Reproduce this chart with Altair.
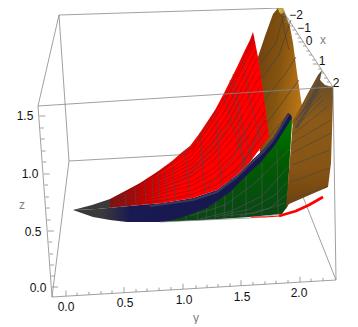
import altair as alt
import pandas as pd

# ---- screen-plane readings of the projected 3D plot (pixels of the picture) ----
box_back = [[(59,15),(281,8)],[(59,15),(69,161)],[(69,161),(284,149)],[(284,149),(336,280)],[(52,297),(69,161)]]
box_front = [[(38,106),(59,15)],[(38,106),(333,87)],[(333,87),(336,280)],[(52,297),(336,280)],[(52,297),(38,106)],[(281,8),(333,87)]]

orange_back = [(258,57),(265,36),(273,14),(278,8),(283,8),(285,13),(290,27),(293,43),(297,73),(301,100),(302,106),(292,125),(285,210),(260,215),(260,140)]
orange_front = [(293,120),(300,108),(308,93),(318,75),(322,70),(320,80),(325,85),(333,87),(333,100),(331,163),(328,187),(289,204),(286,209)]
red_surface = [(73,210),(92,205),(110,199),(127,190),(140,183),(157,172),(172,161),(181,153),(190,146),(199,134),(207,122),(215,110),(223,95),(230,81),(237,67),(245,50),(250,40),(253,32),(258,57),(265,105),(269,137),(259,150),(250,162),(237,175),(217,190),(193,198),(163,203),(140,205),(97,209)]
navy_band = [(73,210),(97,209),(140,205),(163,203),(193,198),(217,190),(237,175),(250,162),(263,150),(273,138),(288,113),(291,115),(292,118),(275,145),(260,163),(250,172),(230,192),(207,208),(180,218),(163,222),(127,222),(110,220),(93,217)]
green_surface = [(160,222),(180,212),(207,202),(230,186),(250,166),(275,140),(292,118),(287,207),(282,214),(249,217),(205,220)]
yellow_tip = [(278,8),(283,8),(285,12),(281,14),(279,12)]

red_u = [
 [(110,207),(140,203),(165,200),(193,194),(216,185),(236,169),(249,154),(268,129)],
 [(110,207),(140,201),(166,196),(193,190),(215,179),(235,162),(248,147),(266,120)],
 [(110,206),(140,199),(167,192),(193,185),(214,173),(233,155),(247,138),(265,111)],
 [(110,205),(140,198),(167,189),(193,181),(214,168),(232,149),(246,131),(264,102)],
 [(110,204),(140,196),(168,185),(192,176),(213,161),(231,141),(245,122),(262,93)],
 [(110,204),(140,194),(168,182),(192,172),(212,156),(230,135),(243,115),(261,85)],
 [(110,203),(140,192),(169,179),(192,168),(211,151),(229,129),(242,107),(260,76)],
 [(110,202),(140,190),(170,175),(192,164),(210,145),(228,122),(241,99),(258,68)],
 [(110,202),(140,189),(170,172),(192,160),(210,140),(227,116),(240,92),(257,59)],
 [(110,201),(140,187),(171,169),(192,155),(209,134),(226,109),(239,84),(256,51)],
 [(110,200),(140,185),(171,165),(192,151),(208,128),(224,103),(238,76),(255,42)],
 [(110,200),(140,184),(172,163),(192,148),(207,125),(224,98),(238,71),(254,36)],
]
red_v = [
 [(125,194),(126,207)],[(135,187),(136,205)],[(145,181),(146,205)],[(152,176),(153,204)],[(165,166),(167,203)],
 [(158,171),(160,203)],[(172,161),(175,202)],[(185,151),(190,199)],[(200,133),(205,195)],[(215,110),(222,187)],
 [(224,95),(234,130),(246,166)],[(242,58),(250,100),(262,146)],[(233,74),(242,125),(252,160)],[(230,80),(238,120),(244,170)],
 [(179,156),(196,142),(212,118)],[(190,175),(215,150),(232,118)],[(205,190),(232,160),(250,122)],[(228,183),(250,150),(265,115)],
 [(170,190),(195,168),(222,130)],[(240,170),(256,140),(267,125)],
]
orange_back_mesh = [
 [(261,62),(276,43),(284,13)],[(262,78),(279,55),(291,20)],[(264,100),(286,73),(296,57)],
 [(267,123),(289,93),(299,80)],[(269,137),(289,113)],[(282,15),(284,30),(289,50)],
]
orange_front_mesh = [
 [(288,200),(327,187)],[(290,182),(330,168)],[(292,165),(330,150)],[(292,153),(331,133)],[(292,143),(331,120)],
 [(292,135),(327,107)],[(293,130),(323,100)],[(293,126),(321,96)],[(294,122),(320,92)],[(296,120),(320,88)],[(298,118),(320,84)],
 [(300,116),(320,80)],
]
orange_band = [(296,128),(306,112),(318,88)]
green_mesh = [
 [(186,216),(186,221)],[(198,212),(197,221)],[(207,207),(206,220)],[(216,200),(215,219)],[(225,196),(224,219)],[(233,190),(232,218)],[(246,176),(246,217)],[(262,163),(262,216)],[(277,148),(278,214)],
 [(200,219),(232,211),(262,196),(290,165)],[(215,217),(250,209),(275,195),(291,178)],[(240,216),(270,208),(288,193)],[(190,216),(225,205),(255,183),(291,148)],
 [(225,216),(255,213),(285,203)],
]
band_edge = [(150,206),(193,200),(217,192),(237,177),(250,164),(263,152),(273,140),(289,114)]
bottom_edge = [(160,222),(205,220),(250,218),(282,214)]
red_thin = [(251,217),(265,217),(279,216)]
red_thick = [(279,216),(296,211),(309,205),(323,197)]

z_major_y = [287,231,174,116]
z_minor_y = [276,265,254,242,220,208,197,185,162,151,139,128]
z_labels = ["0.0","0.5","1.0","1.5"]
z_label_x = [38,33,30,25]
z_label_y = [288,232,174,116]

y_major_x = [66,124,183,241,300]
y_minor_x = [77,89,101,112,136,147,159,171,196,207,218,230,253,265,276,288,311,323]
y_labels = ["0.0","0.5","1.0","1.5","2.0"]
y_label_x = [66,125,184,242,299]
y_label_y = [307,303,300,297,293]

x_major_y = [8,22,42,64,87]
x_minor_y = [12,15,19,26,30,34,38,46,51,55,60,69,73,78,82]
x_labels = ["\u22122","\u22121","0","1","2"]
x_label_x = [296,304,309,322,336]
x_label_y = [15,28,41,61,83]

titles = ["x","y","z"]
title_x = [323,196,22]
title_y = [40,318,205]

X = alt.X("x:Q", scale=alt.Scale(domain=[8,350], nice=False, zero=False), axis=None)
Y = alt.Y("y:Q", scale=alt.Scale(domain=[324,8], nice=False, zero=False), axis=None)

def lines(paths, **mark):
    rows = [dict(g=i, o=j, x=p[0], y=p[1]) for i, path in enumerate(paths) for j, p in enumerate(path)]
    return alt.Chart(pd.DataFrame(rows)).mark_line(clip=False, **mark).encode(X, Y, detail="g:N", order="o:Q")

def shape(points, fill):
    rows = [dict(o=j, x=p[0], y=p[1]) for j, p in enumerate(points + points[:1])]
    return alt.Chart(pd.DataFrame(rows)).mark_line(fill=fill, stroke="transparent", strokeWidth=0).encode(X, Y, order="o:Q")

def grad(stops, x1=0, y1=0, x2=1, y2=0):
    return alt.Gradient(gradient="linear", x1=x1, y1=y1, x2=x2, y2=y2,
                        stops=[alt.GradientStop(offset=o, color=c) for o, c in stops])

def ticks(rows):
    df = pd.DataFrame(rows, columns=["x","y","x2","y2"])
    return alt.Chart(df).mark_rule(color="#888888", strokeWidth=0.8).encode(X, Y, x2="x2:Q", y2="y2:Q")

def texts(labels, xs, ys, color):
    df = pd.DataFrame(dict(t=labels, x=xs, y=ys))
    return alt.Chart(df).mark_text(font="Liberation Sans", fontSize=12, color=color, align="center", baseline="middle").encode(X, Y, text="t:N")

def y_edge(x):
    return 297 - (x - 52) * 17 / 284

def x_edge(y):
    return 281 + (y - 8) * 52 / 79

def z_edge(y):
    return 52 - (287 - y) * 14 / 191

tick_rows = []
for y_ in z_major_y:
    tick_rows.append((z_edge(y_), y_, z_edge(y_) + 6, y_))
for y_ in z_minor_y:
    tick_rows.append((z_edge(y_), y_, z_edge(y_) + 3.5, y_))
for x_ in y_major_x:
    tick_rows.append((x_, y_edge(x_), x_, y_edge(x_) - 5.5))
for x_ in y_minor_x:
    tick_rows.append((x_, y_edge(x_), x_, y_edge(x_) - 3))
for y_ in x_major_y:
    tick_rows.append((x_edge(y_), y_, x_edge(y_) - 5, y_))
for y_ in x_minor_y:
    tick_rows.append((x_edge(y_), y_, x_edge(y_) - 3, y_))

chart = alt.layer(
    lines(box_back, color="#888888", strokeWidth=0.8),
    shape(orange_back, grad([(0,"#6e4210"),(0.5,"#85540f"),(1,"#bb7516")], 0.1, 0, 0.9, 0.55)),
    lines(orange_back_mesh, color="#4a4036", strokeWidth=0.7),
    shape(yellow_tip, "#d9b52a"),
    shape(green_surface, grad([(0,"#007800"),(0.4,"#005c00"),(1,"#0b4418")], 0.5, 0, 0.5, 1)),
    lines(green_mesh, color="#555555", strokeWidth=0.6),
    shape(orange_front, grad([(0,"#5e4a30"),(0.35,"#8c5a18"),(0.7,"#865414"),(1,"#6e420e")], 0.5, 0, 0.5, 1)),
    lines(orange_front_mesh, color="#444444", strokeWidth=0.6),
    lines([orange_band], color="#4d4640", strokeWidth=3, opacity=0.7),
    shape(navy_band, grad([(0,"#3a3a3a"),(0.13,"#3a3a3a"),(0.26,"#1a1a52"),(1,"#161650")])),
    lines([band_edge], color="#3a3a58", strokeWidth=2.2),
    shape(red_surface, grad([(0,"#3a3a3a"),(0.17,"#3a3a3a"),(0.27,"#8a1a1a"),(0.38,"#d80000"),(0.5,"#ff0000"),(1,"#ff0000")])),
    shape(red_surface, grad([(0,"rgba(120,0,0,0.85)"),(0.3,"rgba(120,0,0,0.55)"),(0.5,"rgba(120,0,0,0)"),(1,"rgba(120,0,0,0)")], 0.3, 0.1, 0.95, 0.75)),
    lines(red_u, color="#a00000", strokeWidth=0.6),
    lines(red_v, color="#5a4040", strokeWidth=0.7),
    lines([bottom_edge], color="#888888", strokeWidth=0.7),
    lines([red_thin], color="#ff0000", strokeWidth=1.2),
    lines([red_thick], color="#ff0000", strokeWidth=2.8),
    lines(box_front, color="#888888", strokeWidth=0.8),
    ticks(tick_rows),
    texts(z_labels, z_label_x, z_label_y, "#111111"),
    texts(y_labels, y_label_x, y_label_y, "#111111"),
    texts(x_labels, x_label_x, x_label_y, "#111111"),
    texts(titles, title_x, title_y, "#808080"),
).properties(
    width=342, height=316, padding=0,
    autosize=alt.AutoSizeParams(type="none"),
).configure_view(stroke=None)

chart.save("out.html", embed_options={"renderer": "svg", "actions": False})
